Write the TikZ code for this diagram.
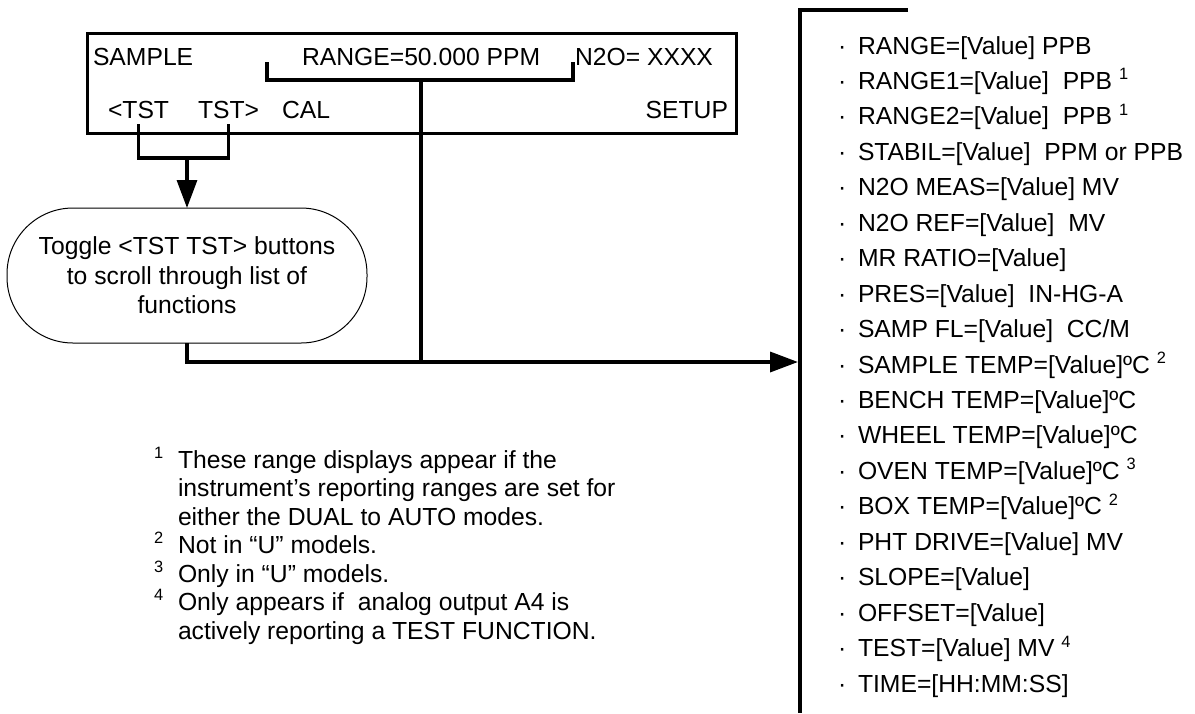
\documentclass[tikz,border=0pt]{standalone}
\usepackage{fontspec}
\setmainfont{Liberation Sans}
\usetikzlibrary{arrows.meta,shapes}
\newcommand{\sups}[1]{\raisebox{4.8pt}{\fontsize{8.2}{9}\selectfont #1}}
\tikzstyle{every picture}+=[x=0.5pt,y=-0.5pt]
\tikzstyle{every picture}+=[>={Triangle[length=14pt,width=10pt]}]
\tikzstyle{every picture}+=[line join=miter]
\tikzstyle{every node}+=[inner sep=0pt,outer sep=0pt]
\tikzstyle{every node}+=[font=\fontsize{12.35}{14.75}\selectfont]
\tikzstyle{txt}=[anchor=base west]
\tikzstyle{display}=[draw,line width=1.5pt]
\tikzstyle{wire}=[line width=1.6pt]
\tikzstyle{flow}=[line width=1.75pt]
\tikzstyle{bar}=[line width=2.25pt]
\tikzstyle{toggle}=[draw,line width=0.5pt,rounded corners=33pt]
\tikzstyle{toggle}+=[minimum width=180pt,minimum height=67.5pt,align=center]

\begin{document}
\begin{tikzpicture}
\path[fill=white,use as bounding box] (0,0) rectangle (1195,713);

% front panel display
\node[display,minimum width=324.5pt,minimum height=50pt] (disp) at (411.5,83) {};
\node[txt] (smp) at (93,65) {SAMPLE};
\node[txt] (rng) at (302,65) {RANGE=50.000 PPM};
\node[txt] (gas) at (575,65) {N2O= XXXX};
\node[txt] (tstl) at (108,118) {<TST};
\node[txt] (tstr) at (198,118) {TST>};
\node[txt] (cal) at (282,118) {CAL};
\node[anchor=base east] (setup) at (728,118) {SETUP};

\node[toggle] (toggle) at (187,275.5)
  {Toggle <TST TST> buttons\\to scroll through list of\\functions};

\coordinate (rngl) at (267,62);
\coordinate (rngr) at (573,62);
\coordinate (rngj) at (421,80);
\coordinate (join) at (421,362);
\coordinate (tstj) at (187,158);
\coordinate (lst) at (798,362);
\coordinate (bartop) at (908,10);
\coordinate (barbot) at (800,713);

\draw[wire] (rngl) |- (rngj) -| (rngr);
\draw[flow] (rngj) -- (join);
\draw[wire] ([yshift=-3pt]tstl.base) |- (tstj) -| ([yshift=-3pt]tstr.base);
\draw[wire,->] (tstj) -- (toggle.north);
\draw[flow,->] (toggle.south) |- (lst);
\draw[bar] (bartop) -| (barbot);

% test functions
\foreach \t [count=\i from 0, evaluate=\i as \yy using 54+\i*35.45] in
  {{RANGE=[Value] PPB},
   {RANGE1=[Value]\ \ PPB \sups{1}},
   {RANGE2=[Value]\ \ PPB \sups{1}},
   {STABIL=[Value]\ \ PPM or PPB},
   {N2O MEAS=[Value] MV},
   {N2O REF=[Value]\ \ MV},
   {MR RATIO=[Value]},
   {PRES=[Value]\ \ IN-HG-A},
   {SAMP FL=[Value]\ \ CC/M},
   {SAMPLE TEMP=[Value]ºC \sups{2}},
   {BENCH TEMP=[Value]ºC},
   {WHEEL TEMP=[Value]ºC},
   {OVEN TEMP=[Value]ºC \sups{3}},
   {BOX TEMP=[Value]ºC \sups{2}},
   {PHT DRIVE=[Value] MV},
   {SLOPE=[Value]},
   {OFFSET=[Value]},
   {TEST=[Value] MV \sups{4}},
   {TIME=[HH:MM:SS]}}
{
  \node[txt] (dot\i) at (838,\yy) {·};
  \node[txt] (item\i) at (858,\yy) {\t};
}

% footnotes
\node[txt] (fn1) at (154,468) {\sups{1}};
\node[txt] (fa) at (178,468) {These range displays appear if the};
\node[txt] (fb) at (178,496.5) {instrument’s reporting ranges are set for};
\node[txt] (fc) at (178,525) {either the DUAL to AUTO modes.};
\node[txt] (fn2) at (154,553.5) {\sups{2}};
\node[txt] (fd) at (178,553.5) {Not in “U” models.};
\node[txt] (fn3) at (154,582) {\sups{3}};
\node[txt] (fe) at (178,582) {Only in “U” models.};
\node[txt] (fn4) at (154,610.5) {\sups{4}};
\node[txt] (ff) at (178,610.5) {Only appears if\ \ analog output A4 is};
\node[txt] (fg) at (178,639) {actively reporting a TEST FUNCTION.};
\end{tikzpicture}
\end{document}
